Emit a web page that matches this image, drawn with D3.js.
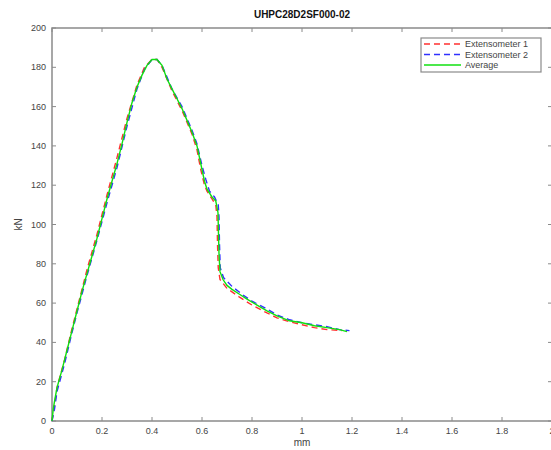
<html>
<head>
<style>
    body { margin: 0; background: #fff; }
    svg text { font-family: "Liberation Sans", Arial, sans-serif; }
</style>
<script src="https://cdn.jsdelivr.net/npm/d3@7"></script>
</head>
<body>
<svg id="chart"></svg>
<script>
    let width = 551,
        height = 450;

    let title = "UHPC28D2SF000-02"
    let xTicks = [0, 0.2, 0.4, 0.6, 0.8, 1, 1.2, 1.4, 1.6, 1.8, 2]
    let yTicks = [0, 20, 40, 60, 80, 100, 120, 140, 160, 180, 200]
    let seriesNames = ["Extensometer 1", "Extensometer 2", "Average"]

    // [mm, kN]
    let ext1 = [[0, 0], [0.01, 8], [0.02, 17], [0.05, 31], [0.08, 47], [0.1, 57], [0.14, 77], [0.18, 95], [0.22, 115],
        [0.26, 134], [0.3, 154], [0.34, 171], [0.37, 180], [0.4, 184], [0.42, 184], [0.44, 180], [0.48, 168],
        [0.52, 158], [0.56, 146], [0.58, 138], [0.595, 128], [0.61, 120], [0.62, 117], [0.64, 113], [0.655, 110],
        [0.66, 104], [0.662, 90], [0.665, 78], [0.672, 72], [0.7, 67.5], [0.75, 63], [0.8, 59], [0.86, 55],
        [0.9, 52.5], [0.95, 50.5], [1.0, 49], [1.05, 47.5], [1.1, 46.5], [1.16, 46]]

    let ext2 = [[0, 0], [0.01, 6], [0.02, 15], [0.05, 29], [0.08, 45], [0.1, 55], [0.14, 74], [0.18, 92], [0.22, 111],
        [0.26, 129], [0.3, 150], [0.34, 169], [0.37, 179], [0.4, 184], [0.42, 184], [0.44, 181], [0.48, 169],
        [0.52, 160], [0.56, 148], [0.58, 141], [0.6, 130], [0.615, 123], [0.63, 117], [0.65, 114], [0.665, 110],
        [0.668, 104], [0.67, 90], [0.673, 78], [0.686, 73], [0.72, 68.5], [0.76, 64.5], [0.8, 61], [0.86, 57],
        [0.9, 54], [0.95, 51.5], [1.0, 50], [1.05, 49], [1.1, 48], [1.15, 46.5], [1.19, 46]]

    let avg = [[0, 0], [0.005, 6], [0.01, 10], [0.02, 17], [0.04, 26], [0.06, 36], [0.08, 46], [0.1, 56], [0.12, 66],
        [0.14, 75], [0.16, 84], [0.18, 93], [0.2, 103], [0.22, 113], [0.24, 122], [0.26, 131], [0.28, 141],
        [0.3, 152], [0.32, 162], [0.34, 170], [0.36, 176], [0.38, 181], [0.4, 184], [0.42, 184], [0.44, 181],
        [0.46, 174], [0.484, 168], [0.5, 164], [0.52, 159], [0.54, 153], [0.56, 147], [0.58, 140], [0.6, 128],
        [0.61, 122], [0.62, 118], [0.64, 114], [0.655, 112], [0.664, 106], [0.666, 95], [0.668, 85], [0.672, 76],
        [0.684, 72], [0.7, 69], [0.72, 67], [0.75, 64.5], [0.78, 62], [0.82, 59], [0.86, 56], [0.9, 53.5],
        [0.95, 51], [1.0, 50], [1.05, 48.5], [1.1, 47.5], [1.15, 46.5], [1.18, 45.5]]

    let margin = { left: 52, right: 552, top: 28, bottom: 421 }
    let axisColor = "#8a8a8a"
    let textColor = "#444"

    let svg = d3.select("#chart").attr("width", width).attr("height", height)
    svg.append("rect").attr("width", width).attr("height", height).attr("fill", "#fff")

    let x = d3.scaleLinear().domain([0, 2]).range([margin.left, margin.right])
    let y = d3.scaleLinear().domain([0, 200]).range([margin.bottom, margin.top])

    // frame + ticks (inward, matlab style)
    let frame = svg.append("g").attr("stroke", axisColor).attr("fill", "none")
    frame.append("rect")
        .attr("x", margin.left).attr("y", margin.top)
        .attr("width", margin.right - margin.left).attr("height", margin.bottom - margin.top)
        .attr("stroke-width", 1.5)

    xTicks.forEach(t => {
        frame.append("line").attr("x1", x(t)).attr("x2", x(t)).attr("y1", margin.bottom).attr("y2", margin.bottom - 4)
        frame.append("line").attr("x1", x(t)).attr("x2", x(t)).attr("y1", margin.top).attr("y2", margin.top + 4)
    })
    yTicks.forEach(t => {
        frame.append("line").attr("x1", margin.left).attr("x2", margin.left + 4).attr("y1", y(t)).attr("y2", y(t))
        frame.append("line").attr("x1", margin.right).attr("x2", margin.right - 4).attr("y1", y(t)).attr("y2", y(t))
    })

    svg.append("g").selectAll("text").data(xTicks).enter().append("text")
        .attr("x", d => x(d)).attr("y", margin.bottom + 13)
        .attr("text-anchor", "middle").attr("font-size", 9).attr("fill", textColor)
        .text(d => d)

    svg.append("g").selectAll("text").data(yTicks).enter().append("text")
        .attr("x", margin.left - 6).attr("y", d => y(d) + 3)
        .attr("text-anchor", "end").attr("font-size", 9).attr("fill", textColor)
        .text(d => d)

    svg.append("text").attr("x", (margin.left + margin.right) / 2).attr("y", 446)
        .attr("text-anchor", "middle").attr("font-size", 10).attr("fill", textColor).text("mm")

    svg.append("text").attr("transform", "translate(22," + ((margin.top + margin.bottom) / 2) + ") rotate(-90)")
        .attr("text-anchor", "middle").attr("font-size", 10).attr("fill", textColor).text("kN")

    svg.append("text").attr("x", (margin.left + margin.right) / 2).attr("y", 18)
        .attr("text-anchor", "middle").attr("font-size", 10).attr("font-weight", "bold")
        .attr("fill", "#111").text(title)

    // curves
    let line = d3.line().x(d => x(d[0])).y(d => y(d[1]))
    let styles = [
        { data: ext1, color: "#ff3030", dash: "6,4" },
        { data: ext2, color: "#3030ff", dash: "6,4" },
        { data: avg, color: "#10e010", dash: null }
    ]
    svg.append("g").selectAll("path").data(styles).enter().append("path")
        .attr("d", d => line(d.data))
        .attr("fill", "none")
        .attr("stroke", d => d.color)
        .attr("stroke-width", 1.4)
        .attr("stroke-dasharray", d => d.dash)

    // legend
    let legend = svg.append("g")
    legend.append("rect").attr("x", 421).attr("y", 38).attr("width", 120).attr("height", 34)
        .attr("fill", "#fff").attr("stroke", axisColor).attr("stroke-width", 1.2)
    styles.forEach((s, i) => {
        let ly = 44 + i * 10.5
        legend.append("line").attr("x1", 424).attr("x2", 461).attr("y1", ly).attr("y2", ly)
            .attr("stroke", s.color).attr("stroke-width", 1.4).attr("stroke-dasharray", s.dash)
        legend.append("text").attr("x", 465).attr("y", ly + 3).attr("font-size", 9)
            .attr("fill", textColor).text(seriesNames[i])
    })
</script>
</body>
</html>
